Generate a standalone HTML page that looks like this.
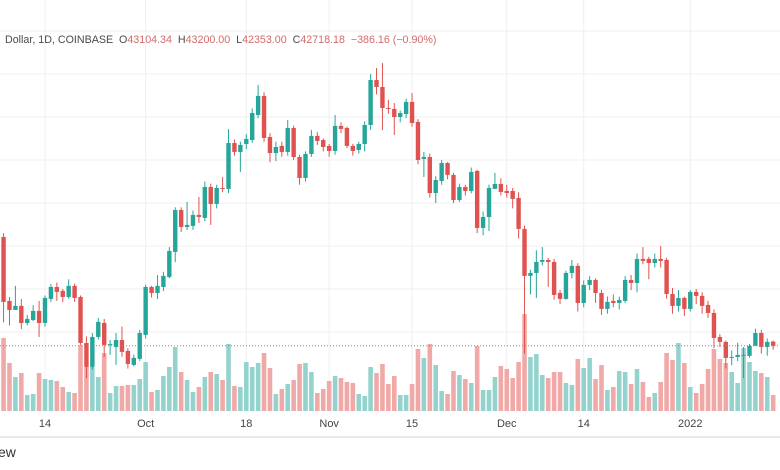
<!DOCTYPE html>
<html><head><meta charset="utf-8">
<style>
html,body{margin:0;padding:0;background:#fff;}
body{width:780px;height:470px;overflow:hidden;position:relative;font-family:"Liberation Sans",sans-serif;}
#hdr{position:absolute;left:5px;top:34px;font-size:10.7px;color:#4a4a4a;white-space:nowrap;}
#hdr .v{color:#d46a6a;}
#wm{position:absolute;left:-2px;top:444px;font-size:14px;color:#333;}
</style></head>
<body>
<svg id="chart" width="780" height="470" style="position:absolute;left:0;top:0"></svg>
<div id="hdr">Dollar, 1D, COINBASE&nbsp; O<span class="v">43104.34</span>&nbsp; H<span class="v">43200.00</span>&nbsp; L<span class="v">42353.00</span>&nbsp; C<span class="v">42718.18</span>&nbsp; <span class="v">−386.16 (−0.90%)</span></div>
<div id="wm">ew</div>
<script>
const opens=[52840,46890,46050,46430,44840,45120,45960,44840,47080,48190,47820,47260,48290,47260,42980,40750,43540,44840,42800,42610,43260,42240,40940,41500,43730,48190,47630,48190,49120,51450,55350,53770,53870,54890,54610,57490,55910,57400,57310,61580,60750,61490,61860,64190,65960,62140,60650,61310,60750,62980,60280,58330,60560,62240,61860,61310,60840,63170,62980,61310,60930,61490,63260,67440,66790,64840,64750,64000,64280,65400,63540,60100,60280,56930,58050,59720,58610,56280,57490,57120,58980,53680,54700,57310,57770,57120,57120,56470,53590,49220,49490,50520,50700,50520,47630,47080,49490,50150,46700,48380,48840,47630,46150,46890,46700,46890,48840,48560,50800,50800,50420,50800,50700,47540,46430,47170,46150,47730,47360,46520,45770,43540,43080,41590,41680,41780,41780,42710,43910,42610,43104.34];
const closes=[46800,46050,46430,44840,45220,45960,44840,47170,48190,47730,47260,48290,47170,42980,40750,43540,44940,42800,42890,43260,42150,41030,41590,43910,48190,47630,48290,49220,51540,55350,53770,53960,54890,54700,57490,55910,57400,57310,61580,60750,61400,61960,64370,65960,62050,60650,61210,60750,62980,60280,58330,60560,62240,61770,61210,60840,63170,62890,61310,60840,61490,63260,67440,66790,64840,64750,64000,64370,65400,63440,60000,60280,56930,58140,59720,58610,56280,57490,57120,58890,53680,54700,57400,57770,57030,56930,56380,53590,49220,49490,50520,50700,50520,47450,47080,49490,50150,46700,48380,48840,47630,46150,46800,46700,46980,48840,48560,50800,50610,50420,50800,50610,47540,46430,47170,46150,47730,47360,46430,45770,43450,43080,41590,41680,41870,41870,42710,43910,42610,43080,42718.18];
const highs=[53200,47260,48290,47070,45600,46500,46890,47400,48470,48600,48000,48900,48500,47400,43600,43900,45300,45220,43260,43910,44500,42500,41900,44200,48400,48300,49300,49600,51900,55600,55600,56100,55300,56560,58000,57800,57700,58420,62880,61900,61700,62400,64800,66980,66300,62500,61700,61700,63720,63200,60500,60800,62800,62600,62000,61500,64190,63500,63100,61500,61700,63600,68000,68560,69020,65600,65300,64600,65700,66230,63800,60750,60600,58500,60000,59800,58800,57800,57700,59300,59100,55200,57700,58800,58300,57700,57400,57000,53900,49800,51600,51900,50900,50800,47900,49700,50700,50400,48800,49200,49000,47900,47300,47500,47300,49200,49300,51300,51900,51000,51300,52000,50900,48100,47900,47300,47900,48000,47700,46900,46100,43800,43200,42300,43000,42600,42900,44300,44200,43400,43200];
const lows=[44900,44600,46270,44270,44600,45000,43540,44500,46800,46900,46800,47100,46800,42800,39700,40500,43300,41680,41870,40940,41700,40600,40800,41300,43400,47200,47070,47800,49000,50500,53300,53500,53500,54140,54300,53960,55500,57000,56930,60400,58890,61000,61600,63900,61700,59800,59900,60300,60400,60000,57700,58000,60300,61400,60800,60300,60500,62500,61100,60400,60600,60800,62800,66100,62790,64300,62330,63500,63900,63100,59600,58420,56500,56000,57700,58200,56000,56100,56700,56900,53200,53000,53400,57300,56700,56500,55500,52700,42000,47500,47170,50200,48200,47000,46600,47000,49000,45900,46300,47900,46700,45600,45700,46300,46100,46700,47900,47700,50300,48900,50000,50000,47100,45700,45900,45500,45900,46600,45700,45300,42500,42600,40600,40900,41300,39700,41600,43400,42000,41800,42353];
const volumes=[7300,4800,3400,3800,1600,1700,3800,3200,3100,3000,2400,1900,1800,6600,4400,4400,3400,5800,1800,2500,2500,2600,2600,3200,4900,1900,2100,3500,4400,6400,3900,3100,1900,2400,3400,3900,3700,3100,6700,2500,2400,4900,4400,4800,5800,4300,1700,2200,2700,3100,4700,4800,3900,1800,2200,3000,3500,3300,2900,2800,1700,1500,4400,3800,4700,2700,3500,1600,1600,2700,6200,5300,6700,4600,2000,1700,4000,3600,3200,2800,6500,2100,2100,3400,4500,4200,3300,4900,9700,5400,5700,3600,3300,3900,3900,2800,2600,5200,4300,5300,3200,4600,2100,2400,4000,3900,2700,4200,2900,1400,1800,2900,5800,5100,6800,4800,2400,1800,2700,4200,6200,5200,4800,3900,2800,6300,4900,4000,3800,3400,1600];
const tickLabels=["14","Oct","18","Nov","15","Dec","14","2022"];
const tickIndex=[7,24,41,55,69,85,98,116];
const gridPrices=[72000,68000,64000,60000,56000,52000,48000,44000];

const NS="http://www.w3.org/2000/svg";
const svg=document.getElementById('chart');
function xScale(i){return 3.56+5.92*i;}
function yScale(p){return 332-(p-44000)*0.01075;}
function vScale(v){return 411-v*0.01;}
function mk(tag,attrs,parent){const e=document.createElementNS(NS,tag);for(const k in attrs)e.setAttribute(k,attrs[k]);(parent||svg).appendChild(e);return e;}

const grid=mk('g',{});


gridPrices.forEach(p=>{const l=mk('line',{x1:0,x2:780,y1:yScale(p),y2:yScale(p),stroke:'#efefef','stroke-width':1},grid);

});
tickIndex.forEach(i=>{const l=mk('line',{x1:xScale(i),x2:xScale(i),y1:0,y2:411,stroke:'#efefef','stroke-width':1},grid);

});

const vg=mk('g',{});


volumes.forEach((v,i)=>{const up=closes[i]>=opens[i];const y=vScale(v);
const r=mk('rect',{x:xScale(i)-2.3,y:y,width:4.6,height:411-y,fill:up?'#94d3cd':'#f1a9a7'},vg);

});

const cg=mk('g',{});


opens.forEach((o,i)=>{const c=closes[i];const up=c>=o;const col=up?'#26a69a':'#e0524f';const x=xScale(i);
const g=mk('g',{},cg);


mk('line',{x1:x,x2:x,y1:yScale(highs[i]),y2:yScale(lows[i]),stroke:col,'stroke-width':1},g);
const yt=yScale(Math.max(o,c)),yb=yScale(Math.min(o,c));
mk('rect',{x:x-2.2,y:yt,width:4.4,height:Math.max(1,yb-yt),fill:col},g);});

const last=closes[closes.length-1];
const pl=mk('line',{x1:0,x2:780,y1:yScale(last),y2:yScale(last),stroke:'#888','stroke-width':1,'stroke-dasharray':'1,2'});



const ax=mk('g',{});


mk('rect',{x:0,y:411,width:780,height:25,fill:'#fff'},ax);
tickLabels.forEach((t,k)=>{const tx=mk('text',{x:xScale(tickIndex[k]),y:427,'text-anchor':'middle','font-size':11,fill:'#444','font-family':'Liberation Sans, sans-serif'},ax);
tx.textContent=t;

});
const sep=mk('rect',{x:0,y:436,width:780,height:2,fill:'#e9e9e9'});


</script>
</body></html>
